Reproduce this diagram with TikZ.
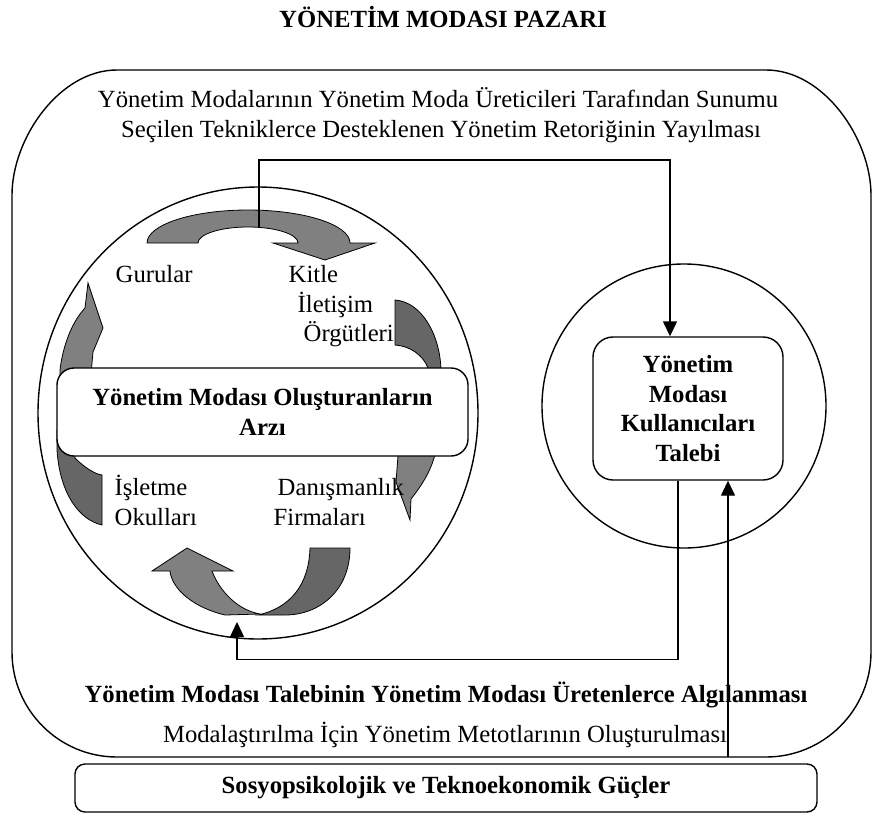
\documentclass[tikz,border=0pt]{standalone}
\usepackage{fontspec}
\setmainfont{Liberation Serif}
\usetikzlibrary{arrows.meta,shapes.geometric}
\definecolor{arrlight}{HTML}{808080}
\definecolor{arrdark}{HTML}{666666}
\begin{document}
\begin{tikzpicture}[x=1pt,y=-1pt,line width=1.4pt,
  txt/.style={font=\fontsize{24.7}{29.5}\selectfont, inner sep=0pt, align=center},
  btxt/.style={font=\fontsize{24.7}{29.5}\selectfont\bfseries, inner sep=0pt, align=center},
  lbl/.style={font=\fontsize{24.7}{29.5}\selectfont, inner sep=0pt, anchor=base west},
  lightblk/.style={fill=arrlight, draw=black, line width=0.8pt},
  darkblk/.style={fill=arrdark, draw=black, line width=0.8pt},
  conn/.style={line width=1.4pt},
  arr/.style={line width=1.4pt, -{Triangle[length=15pt,width=14pt]}},
  boxw/.style={draw, fill=white, line width=1.4pt}]
\useasboundingbox (0,0) rectangle (873,814);

% title
\node[btxt, anchor=base] (title) at (443,27) {YÖNETİM MODASI PAZARI};

% outer market frame
\draw (117,70) -- (766,70) .. controls (824,70) and (871,139) .. (871,195)
  -- (871,652) .. controls (871,710) and (824,757) .. (766,757)
  -- (117,757) .. controls (59,757) and (12,710) .. (12,652)
  -- (12,195) .. controls (12,139) and (59,70) .. (117,70) -- cycle;

\node[txt, anchor=base] (top1) at (438,107) {Yönetim Modalarının Yönetim Moda Üreticileri Tarafından Sunumu};
\node[txt, anchor=base] (top2) at (441,137) {Seçilen Tekniklerce Desteklenen Yönetim Retoriğinin Yayılması};

% circles
\node[draw, ellipse, minimum width=440pt, minimum height=452pt, inner sep=0pt] (bigc) at (258,413) {};
\node[draw, circle, minimum size=284pt, inner sep=0pt] (userc) at (684,406) {};

% top curved arrow
\draw[lightblk] (147,243) .. controls (147,224.8) and (192.2,210) .. (248,210)
  .. controls (304.3,210) and (350,224.8) .. (350,243)
  -- (375,243) -- (325,260) -- (273,243) -- (298,243)
  .. controls (298,234.2) and (275.6,227) .. (248,227)
  .. controls (220.4,227) and (198,234.2) .. (198,243) -- cycle;

% right curved arrow (tail + head)
\draw[darkblk] (395,300) .. controls (422,302) and (440,335) .. (441,370)
  -- (441,410) -- (425,410) -- (428,368) .. controls (423,355) and (410,346) .. (395,345) -- cycle;
\draw[lightblk] (400,440) -- (398,456) -- (396,482) -- (410,520) -- (411,499)
  .. controls (422,485) and (432,470) .. (436,450) -- (437,440) -- cycle;

% left curved arrow (tail + head)
\draw[darkblk] (102,525) .. controls (80,520) and (60,495) .. (57,450) -- (57,430) -- (76,430)
  -- (75,458) .. controls (85,468) and (95,474) .. (102,475) -- cycle;
\draw[lightblk] (60,385) -- (60,370) .. controls (63,345) and (72,322) .. (85,308) -- (88,283)
  -- (103,328) -- (93,352) -- (90,385) -- cycle;

% bottom U-turn arrow
\draw[lightblk] (152,571) -- (187,548) -- (233,571) -- (212,571)
  .. controls (220,592) and (238,610) .. (260,614)
  -- (225,615) .. controls (195,608) and (172,590) .. (170,571) -- cycle;
\draw[darkblk] (310,548) -- (350,548) .. controls (350,590) and (320,615) .. (285,615)
  -- (258,615) .. controls (290,608) and (309,585) .. (310,548) -- cycle;

% boxes
\node[boxw, rounded corners=17pt, minimum width=411pt, minimum height=88pt, btxt] (supply)
  at (262.5,412) {Yönetim Modası Oluşturanların\\Arzı};
\node[boxw, rounded corners=20pt, minimum width=190pt, minimum height=143pt, btxt] (demand)
  at (688,408.5) {Yönetim\\Modası\\Kullanıcıları\\Talebi};
\node[draw, rounded corners=10pt, minimum width=742pt, minimum height=48pt, btxt] (forces)
  at (446,788) {Sosyopsikolojik ve Teknoekonomik Güçler};

% labels
\node[lbl] (gurular) at (115,282) {Gurular};
\node[lbl] (kitle) at (288,282) {Kitle};
\node[lbl] (iletisim) at (297,312) {İletişim};
\node[lbl] (orgutleri) at (303,341) {Örgütleri};
\node[lbl] (isletme) at (114,495) {İşletme};
\node[lbl] (okullari) at (114,525) {Okulları};
\node[lbl] (danisman) at (277,495) {Danışmanlık};
\node[lbl] (firmalari) at (273,525) {Firmaları};

% bottom texts
\node[btxt, anchor=base] (perception) at (446,702) {Yönetim Modası Talebinin Yönetim Modası Üretenlerce Algılanması};
\node[txt, anchor=base] (methods) at (445,742) {Modalaştırılma İçin Yönetim Metotlarının Oluşturulması};

% connectors
\coordinate (topstart) at (259,227);
\coordinate (supplyin) at (237,622);
\coordinate (forcesout) at (728,757);
\draw[arr] (topstart) -- (topstart |- 0,160) -| ([xshift=-18pt]demand.north);
\draw[arr] ([xshift=-10pt]demand.south) -- ++(0,179) -| (supplyin);
\draw[arr] (forcesout) -- (forcesout |- demand.south);
\end{tikzpicture}
\end{document}
